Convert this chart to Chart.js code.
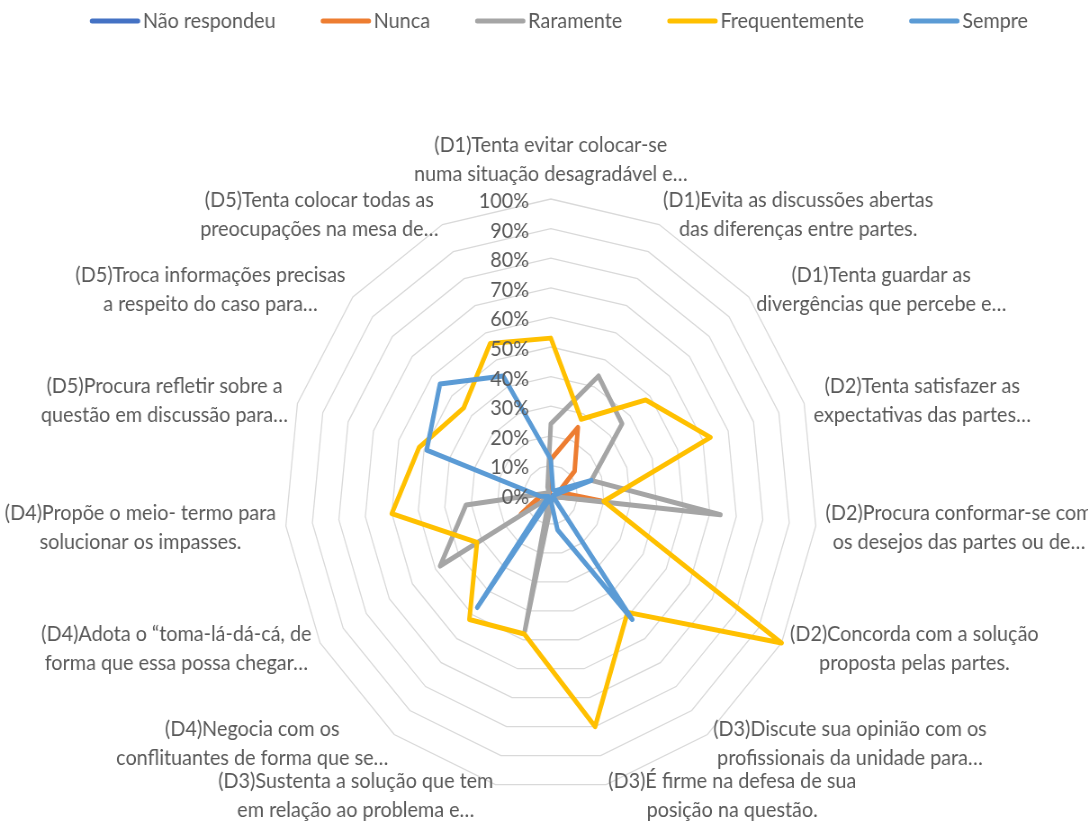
<!DOCTYPE html>
<html>
<head>
<meta charset="utf-8">
<script src="https://cdn.jsdelivr.net/npm/chart.js@4/dist/chart.umd.min.js"></script>
<style>
  html, body { margin: 0; padding: 0; background: #fff; overflow: hidden; }
  /* the original picture is squeezed sideways, so the chart is drawn wide and squeezed back */
  #wrap { width: 1209px; height: 822px; transform: scaleX(0.9); transform-origin: 0 0; }
</style>
</head>
<body>
<div id="wrap"><canvas id="radar"></canvas></div>
<script>
"use strict";

const categories = [
  ['(D1)Tenta evitar colocar-se', 'numa situação desagradável e…'],
  ['(D1)Evita as discussões abertas', 'das diferenças entre partes.'],
  ['(D1)Tenta guardar as', 'divergências que percebe e…'],
  ['(D2)Tenta satisfazer as', 'expectativas das partes…'],
  ['(D2)Procura conformar-se com', 'os desejos das partes ou de…'],
  ['(D2)Concorda com a solução', 'proposta pelas partes.'],
  ['(D3)Discute sua opinião com os', 'profissionais da unidade para…'],
  ['(D3)É firme na defesa de sua', 'posição na questão.'],
  ['(D3)Sustenta a solução que tem', 'em relação ao problema e…'],
  ['(D4)Negocia com os', 'conflituantes de forma que se…'],
  ['(D4)Adota o “toma-lá-dá-cá, de', 'forma que essa possa chegar…'],
  ['(D4)Propõe o meio- termo para', 'solucionar os impasses.'],
  ['(D5)Procura refletir sobre a', 'questão em discussão para…'],
  ['(D5)Troca informações precisas', 'a respeito do caso para…'],
  ['(D5)Tenta colocar todas as', 'preocupações na mesa de…']
];

const seriesNames = ['Não respondeu', 'Nunca', 'Raramente', 'Frequentemente', 'Sempre'];
const naoRespondeu = [0, 0, 0, 0, 0, 0, 0, 0, 0, 0, 0, 0, 0, 0, 0];
const nunca = [12, 25, 12, 3, 19, 1, 1, 1, 1, 1, 13, 4, 1, 1, 1];
const raramente = [24, 44, 36, 16, 64, 1, 1, 2, 47, 1, 48, 32, 2, 1, 3];
const frequentemente = [53, 28, 48, 63, 20, 100, 49, 80, 48, 52, 32, 60, 52, 44, 56];
const sempre = [12, 2, 2, 16, 1, 1, 52, 12, 1, 47, 1, 4, 49, 56, 44];

const tickValues = [0, 10, 20, 30, 40, 50, 60, 70, 80, 90, 100];
const tickLabels = ['0%', '10%', '20%', '30%', '40%', '50%', '60%', '70%', '80%', '90%', '100%'];

const colors = ['#4472C4', '#ED7D31', '#A5A5A5', '#FFC000', '#5B9BD5'];

// where the radar sits on the (unsqueezed) canvas
const CX = 612, CY = 495, RADIUS = 296;
const FONT = '22px Lato';
const TEXT_COLOR = '#595959';
const LINE_H = 29;

const allSeries = [naoRespondeu, nunca, raramente, frequentemente, sempre];

function makeDataset(i) {
  return {
    label: seriesNames[i],
    data: allSeries[i],
    borderColor: colors[i],
    backgroundColor: colors[i],
    borderWidth: 5,
    borderJoinStyle: 'round',
    borderCapStyle: 'round',
    pointRadius: 0,
    pointHoverRadius: 0,
    fill: false,
    tension: 0,
    order: 5 - i // Excel draws the last series on top
  };
}

// texts that Excel puts round the radar: ticks, category names, legend
const excelText = {
  id: 'excelText',
  afterDraw(chart) {
    const ctx = chart.ctx;
    const r = chart.scales.r;
    ctx.save();
    ctx.font = FONT;
    ctx.fillStyle = TEXT_COLOR;

    ctx.textAlign = 'right';
    ctx.textBaseline = 'middle';
    tickValues.forEach((v, i) => {
      const p = r.getPointPositionForValue(0, v);
      ctx.fillText(tickLabels[i], p.x - 24, p.y + 2);
    });

    ctx.textAlign = 'center';
    categories.forEach((lines, i) => {
      const p = r.getPointPosition(i, r.drawingArea + 11);
      const angle = i * 360 / categories.length;
      const w = Math.max(...lines.map(t => ctx.measureText(t).width));
      const h = lines.length * LINE_H;
      let x = p.x, top = p.y - h / 2;
      if (angle === 0) top = p.y - h;
      else if (angle < 180) x = p.x + w / 2;
      else x = p.x - w / 2;
      lines.forEach((t, j) => ctx.fillText(t, x, top + LINE_H * (j + 0.5)));
    });

    // legend
    const sample = 56, gapText = 3, gapItem = 50, y = 21;
    const widths = seriesNames.map(n => ctx.measureText(n).width);
    const total = widths.reduce((a, b) => a + b, 0) + seriesNames.length * (sample + gapText) + gapItem * (seriesNames.length - 1);
    let x = CX + 9 - total / 2;
    ctx.textAlign = 'left';
    ctx.lineCap = 'round';
    ctx.lineWidth = 5;
    seriesNames.forEach((name, i) => {
      ctx.strokeStyle = colors[i];
      ctx.beginPath();
      ctx.moveTo(x + 2.5, y);
      ctx.lineTo(x + sample - 2.5, y);
      ctx.stroke();
      ctx.fillText(name, x + sample + gapText, y);
      x += sample + gapText + widths[i] + gapItem;
    });
    ctx.restore();
  }
};

const chart = new Chart(document.getElementById('radar'), {
  type: 'radar',
  data: {
    labels: categories.map(l => l.join(' ')),
    datasets: seriesNames.map((n, i) => makeDataset(i))
  },
  options: {
    responsive: true,
    maintainAspectRatio: false,
    animation: false,
    plugins: {
      legend: { display: false },
      tooltip: { enabled: false }
    },
    scales: {
      r: {
        min: 0,
        max: 100,
        ticks: { stepSize: 10, display: false },
        grid: { color: '#D9D9D9', lineWidth: 1.3 },
        angleLines: { display: false },
        pointLabels: { display: false },
        afterFit: (scale) => {
          scale.xCenter = CX;
          scale.yCenter = CY;
          scale.drawingArea = RADIUS;
        }
      }
    }
  },
  plugins: [excelText]
});
</script>
</body>
</html>
